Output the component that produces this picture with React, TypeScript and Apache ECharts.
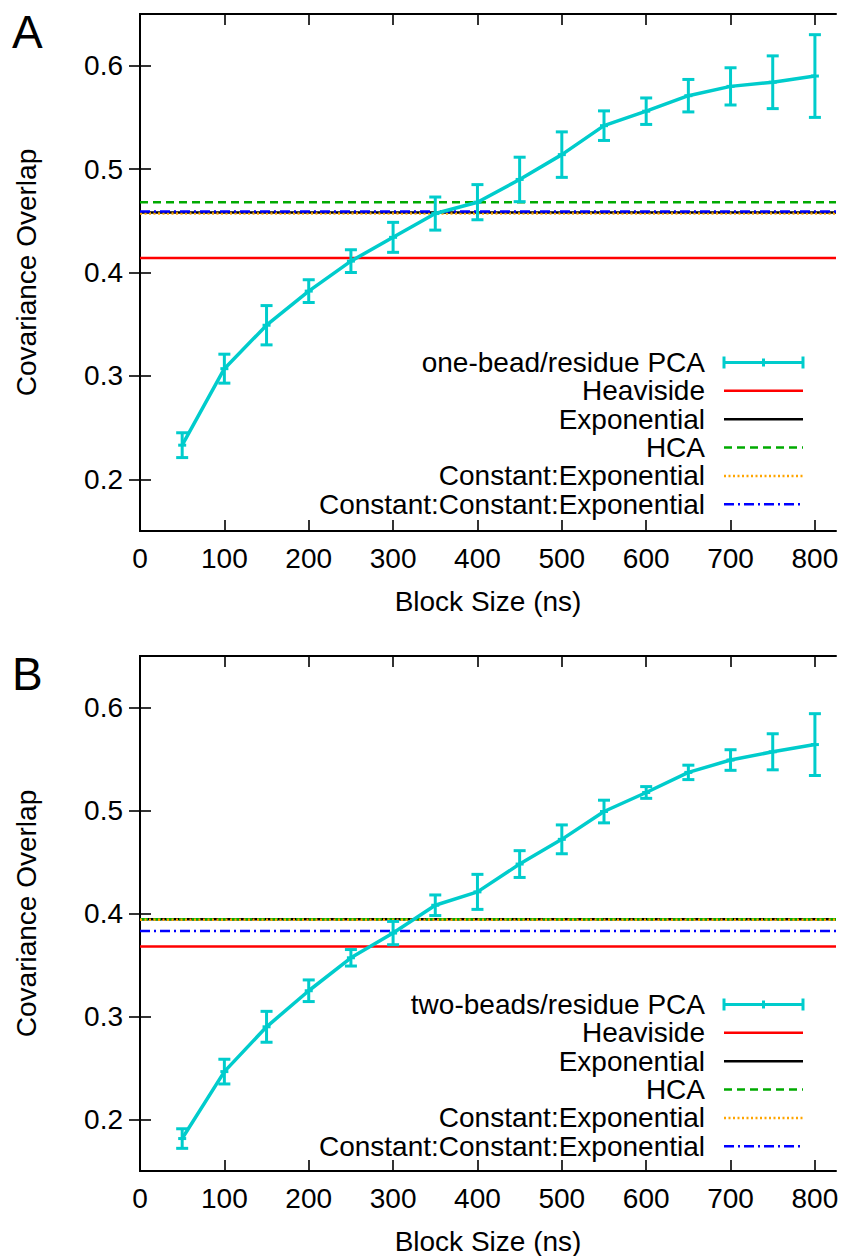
import React, { useEffect, useRef } from "react";
import * as echarts from "echarts";

// ---------- data ----------
const blockSizes = [50, 100, 150, 200, 250, 300, 350, 400, 450, 500, 550, 600, 650, 700, 750, 800];

const pcaOneBead = [0.233, 0.307, 0.349, 0.382, 0.411, 0.434, 0.457, 0.468, 0.49, 0.514, 0.542, 0.556, 0.571, 0.58, 0.584, 0.59];
const errOneBead = [0.012, 0.014, 0.019, 0.011, 0.011, 0.0145, 0.016, 0.017, 0.0215, 0.022, 0.0143, 0.0128, 0.0157, 0.018, 0.0255, 0.04];

const pcaTwoBeads = [0.1815, 0.2465, 0.29, 0.325, 0.357, 0.381, 0.408, 0.421, 0.448, 0.472, 0.499, 0.5175, 0.537, 0.549, 0.557, 0.564];
const errTwoBeads = [0.0095, 0.012, 0.015, 0.0105, 0.008, 0.0113, 0.01, 0.017, 0.013, 0.014, 0.011, 0.0057, 0.007, 0.01, 0.0175, 0.03];

const modelNames = ["Heaviside", "Exponential", "HCA", "Constant:Exponential", "Constant:Constant:Exponential"];
const modelsA = [0.414, 0.458, 0.468, 0.457, 0.459];
const modelsB = [0.368, 0.3945, 0.3945, 0.394, 0.383];

const pcaNames = ["one-bead/residue PCA", "two-beads/residue PCA"];
const panelLabels = ["A", "B"];

const xTicks = [0, 100, 200, 300, 400, 500, 600, 700, 800];
const yTicks = [0.2, 0.3, 0.4, 0.5, 0.6];
const xRange = [0, 825];
const yRange = [0.15, 0.65];

// ---------- styles ----------
const FONT = "'Liberation Sans', Arial, Helvetica, sans-serif";
const CYAN = "#00cccc";
const modelStyles = [
  { color: "#ff0000", type: "solid" as any, cap: "butt" },
  { color: "#000000", type: "solid" as any, cap: "butt" },
  { color: "#00aa00", type: [8, 5] as any, cap: "butt" },
  { color: "#ffa500", type: [2, 2.5] as any, cap: "butt" },
  { color: "#0000ff", type: [10, 4, 2, 4] as any, cap: "butt" },
];

const grids = [
  { left: 140, top: 14, width: 696, height: 517 },
  { left: 140, top: 656, width: 696, height: 515 },
];

export default function App() {
  const ref = useRef<HTMLDivElement>(null);

  useEffect(() => {
    document.body.style.margin = "0";
    if (!ref.current) return;
    const chart = echarts.init(ref.current, undefined, { renderer: "svg" });

    const xAxes: any[] = [];
    const yAxes: any[] = [];
    const series: any[] = [];
    const graphics: any[] = [];

    const panels = [
      { pca: pcaOneBead, err: errOneBead, models: modelsA },
      { pca: pcaTwoBeads, err: errTwoBeads, models: modelsB },
    ];

    panels.forEach((p, gi) => {
      const axisLine = { show: true, lineStyle: { color: "#000", width: 2 } };
      const tickStyle = { color: "#000", width: 1.6 };
      // bottom x
      xAxes.push({
        type: "value",
        gridIndex: gi,
        position: "bottom",
        min: xRange[0],
        max: xRange[1],
        axisLine,
        axisTick: { show: true, inside: true, length: 11, lineStyle: tickStyle, customValues: xTicks },
        axisLabel: {
          show: true,
          customValues: xTicks,
          margin: 13,
          fontSize: 28,
          fontFamily: FONT,
          color: "#000",
          formatter: (v: number) => String(v),
        },
        splitLine: { show: false },
        name: "Block Size (ns)",
        nameLocation: "middle",
        nameGap: 56,
        nameTextStyle: { fontSize: 28, fontFamily: FONT, color: "#000" },
      });
      // top mirror x
      xAxes.push({
        type: "value",
        gridIndex: gi,
        position: "top",
        min: xRange[0],
        max: xRange[1],
        axisLine,
        axisTick: { show: true, inside: true, length: 11, lineStyle: tickStyle, customValues: xTicks },
        axisLabel: { show: false },
        splitLine: { show: false },
      });
      // left y
      yAxes.push({
        type: "value",
        gridIndex: gi,
        position: "left",
        min: yRange[0],
        max: yRange[1],
        axisLine,
        axisTick: { show: true, inside: true, length: 11, lineStyle: tickStyle, customValues: yTicks },
        axisLabel: {
          show: true,
          customValues: yTicks,
          margin: 17,
          fontSize: 28,
          fontFamily: FONT,
          color: "#000",
          formatter: (v: number) => v.toFixed(1),
        },
        splitLine: { show: false },
        name: "Covariance Overlap",
        nameLocation: "middle",
        nameGap: 100,
        nameTextStyle: { fontSize: 28, fontFamily: FONT, color: "#000" },
      });
      // right mirror y
      yAxes.push({
        type: "value",
        gridIndex: gi,
        position: "right",
        min: yRange[0],
        max: yRange[1],
        axisLine,
        axisTick: { show: true, inside: true, length: 11, lineStyle: tickStyle, customValues: yTicks },
        axisLabel: { show: false },
        splitLine: { show: false },
      });

      const xi = gi * 2;
      const yi = gi * 2;

      // PCA line
      series.push({
        type: "line",
        name: pcaNames[gi],
        xAxisIndex: xi,
        yAxisIndex: yi,
        data: blockSizes.map((x, i) => [x, p.pca[i]]),
        symbol: "none",
        lineStyle: { color: CYAN, width: 3.5 },
        z: 3,
      });
      // PCA error bars
      series.push({
        type: "custom",
        name: pcaNames[gi] + " error",
        xAxisIndex: xi,
        yAxisIndex: yi,
        data: blockSizes.map((x, i) => [x, p.pca[i] - p.err[i], p.pca[i] + p.err[i], p.pca[i]]),
        encode: { x: 0, y: [1, 2] },
        z: 3,
        renderItem: (params: any, api: any) => {
          const x = api.value(0);
          const lo = api.coord([x, api.value(1)]);
          const hi = api.coord([x, api.value(2)]);
          const mid = api.coord([x, api.value(3)]);
          const hw = 6;
          const style = { stroke: CYAN, lineWidth: 3, fill: null };
          return {
            type: "group",
            children: [
              { type: "line", shape: { x1: hi[0], y1: hi[1], x2: lo[0], y2: lo[1] }, style },
              { type: "line", shape: { x1: hi[0] - hw, y1: hi[1], x2: hi[0] + hw, y2: hi[1] }, style },
              { type: "line", shape: { x1: lo[0] - hw, y1: lo[1], x2: lo[0] + hw, y2: lo[1] }, style },
              { type: "line", shape: { x1: mid[0] - 4, y1: mid[1], x2: mid[0] + 4, y2: mid[1] }, style },
            ],
          };
        },
      });
      // model horizontal lines
      modelNames.forEach((name, mi) => {
        const st = modelStyles[mi];
        series.push({
          type: "line",
          name: name + (gi === 0 ? "" : " "),
          xAxisIndex: xi,
          yAxisIndex: yi,
          data: [
            [xRange[0], p.models[mi]],
            [xRange[1], p.models[mi]],
          ],
          symbol: "none",
          lineStyle: { color: st.color, width: 2.5, type: st.type, cap: st.cap },
          z: 2,
        });
      });

      // legend (drawn as graphic)
      const g = grids[gi];
      const rowTop = g.top + 348.5;
      const rowStep = 28.35;
      const textRight = 705;
      const lineX1 = 724;
      const lineX2 = 803;
      const labels = [pcaNames[gi], ...modelNames];
      labels.forEach((lab, ri) => {
        const y = rowTop + ri * rowStep;
        graphics.push({
          type: "text",
          x: textRight,
          y: y,
          style: {
            text: lab,
            fontSize: 28,
            fontFamily: FONT,
            fill: "#000",
            align: "right",
            verticalAlign: "middle",
          },
        });
        if (ri === 0) {
          const s = { stroke: CYAN, lineWidth: 3 };
          graphics.push({ type: "line", shape: { x1: lineX1, y1: y, x2: lineX2, y2: y }, style: s });
          graphics.push({ type: "line", shape: { x1: lineX1, y1: y - 6, x2: lineX1, y2: y + 6 }, style: s });
          graphics.push({ type: "line", shape: { x1: lineX2, y1: y - 6, x2: lineX2, y2: y + 6 }, style: s });
          graphics.push({ type: "line", shape: { x1: (lineX1 + lineX2) / 2, y1: y - 4, x2: (lineX1 + lineX2) / 2, y2: y + 4 }, style: s });
        } else {
          const st = modelStyles[ri - 1];
          graphics.push({
            type: "line",
            shape: { x1: lineX1, y1: y, x2: lineX2, y2: y },
            style: {
              stroke: st.color,
              lineWidth: 2.5,
              lineDash: st.type === "solid" ? null : st.type,
            },
          });
        }
      });

      // panel letter
      graphics.push({
        type: "text",
        x: 12,
        y: g.top + 18,
        style: {
          text: panelLabels[gi],
          fontSize: 46,
          fontFamily: FONT,
          fill: "#000",
          align: "left",
          verticalAlign: "middle",
        },
      });
    });

    chart.setOption({
      animation: false,
      backgroundColor: "#ffffff",
      grid: grids.map((g) => ({ ...g, containLabel: false })),
      xAxis: xAxes,
      yAxis: yAxes,
      series,
      graphic: graphics,
    });

    return () => {
      chart.dispose();
    };
  }, []);

  return <div ref={ref} style={{ width: 846, height: 1256 }} />;
}
